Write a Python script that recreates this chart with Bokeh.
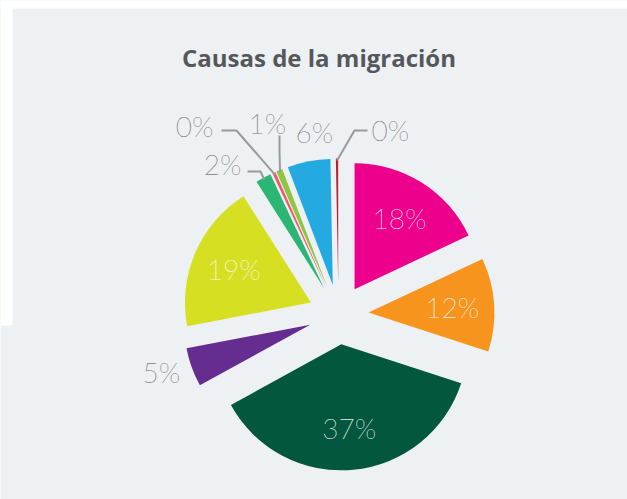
import math
from bokeh.plotting import figure
from bokeh.models import Range1d, ColumnDataSource
from bokeh.core.properties import value
from bokeh.embed import file_html
from bokeh.resources import INLINE

# ---- data (clockwise from 12 o'clock) ----
categories = ["Causa A", "Causa B", "Causa C", "Causa D", "Causa E",
              "Causa F", "Causa G", "Causa H", "Causa I", "Causa J"]
values = [18, 12, 37, 5, 19, 2, 0.4, 0.8, 5.5, 0.3]
labels = ["18%", "12%", "37%", "5%", "19%", "2%", "0%", "1%", "6%", "0%"]
colors = ["#ec008c", "#f7941d", "#03573f", "#662d91", "#d7df23",
          "#2bb673", "#f15a6e", "#8dc63f", "#24a9e1", "#be1e2d"]
label_mode = ["in", "in", "in", "out", "in", "leader", "leader", "leader", "out", "leader"]
title = "Causas de la migración"

# ---- layout (figure px, origin bottom-left) ----
W, H = 627, 499
BG = "#edf1f4"
CX, CY = 338, 185
R = 126
EXPLODE = 30
IN_R = 114
LABEL_FONT = value("Lato Thin")
LABEL_SIZE = "28px"
out_layout = {3: (161, 128), 8: (314, 368)}
leader_layout = {
    5: dict(tx=241, ty=336, align="right", pts=[(247, 328), (260, 328)]),
    6: dict(tx=213, ty=374, align="right", pts=[(221, 369), (236, 369)]),
    7: dict(tx=267, ty=377, align="center", pts=[(279, 364), (279, 350)]),
    9: dict(tx=371, ty=370, align="left", pts=[(367, 369), (354, 369)]),
}

p = figure(width=W, height=H, x_range=Range1d(0, W), y_range=Range1d(0, H),
           output_backend="svg", toolbar_location=None,
           x_axis_location=None, y_axis_location=None,
           min_border=0, background_fill_color=BG, border_fill_color=BG,
           outline_line_color=None)
p.grid.visible = False

# white page edges seen in the reference
p.quad(left=[0], right=[W], bottom=[H - 8], top=[H], fill_color="white", line_color=None)
p.quad(left=[0], right=[12], bottom=[H - 325], top=[H], fill_color="white", line_color=None)

total = sum(values)
starts, ends, mids = [], [], []
cum = 0.0
for v in values:
    a0 = math.pi / 2 - 2 * math.pi * cum / total
    cum += v
    a1 = math.pi / 2 - 2 * math.pi * cum / total
    starts.append(a0)
    ends.append(a1)
    mids.append((a0 + a1) / 2)

src = ColumnDataSource(dict(
    x=[CX + EXPLODE * math.cos(m) for m in mids],
    y=[CY + EXPLODE * math.sin(m) for m in mids],
    start=ends, end=starts, color=colors, cat=categories, val=values))
p.wedge(x="x", y="y", radius=R, start_angle="start", end_angle="end",
        direction="anticlock", fill_color="color", line_color=None, source=src)

# labels
in_x, in_y, in_t = [], [], []
out_x, out_y, out_t = [], [], []
for i, m in enumerate(mids):
    if label_mode[i] == "in":
        in_x.append(CX + IN_R * math.cos(m)); in_y.append(CY + IN_R * math.sin(m)); in_t.append(labels[i])
    elif label_mode[i] == "out":
        ox, oy = out_layout[i]
        out_x.append(ox); out_y.append(oy); out_t.append(labels[i])
    else:
        lay = leader_layout[i]
        ax = CX + (R + EXPLODE - 2) * math.cos(m)
        ay = CY + (R + EXPLODE - 2) * math.sin(m)
        xs = [pt[0] for pt in lay["pts"]] + [ax]
        ys = [pt[1] for pt in lay["pts"]] + [ay]
        p.line(xs, ys, line_color="#9a9a9a", line_width=2)
        p.text(x=[lay["tx"]], y=[lay["ty"]], text=[labels[i]], text_align=lay["align"],
               text_baseline="middle", text_font=LABEL_FONT, text_font_size=LABEL_SIZE,
               text_color="#7d7d7d")

p.text(x=in_x, y=in_y, text=in_t, text_align="center", text_baseline="middle",
       text_font=LABEL_FONT, text_font_size=LABEL_SIZE, text_color="white", text_alpha=0.9)
p.text(x=out_x, y=out_y, text=out_t, text_align="center", text_baseline="middle",
       text_font=LABEL_FONT, text_font_size=LABEL_SIZE, text_color="#7d7d7d")

# title
p.text(x=[318.5], y=[H - 57], text=[title], text_align="center", text_baseline="middle",
       text_font=value("Open Sans"), text_font_style="bold", text_font_size="24px",
       text_color="#55585a")

open("out.html", "w").write(file_html(p, INLINE))
